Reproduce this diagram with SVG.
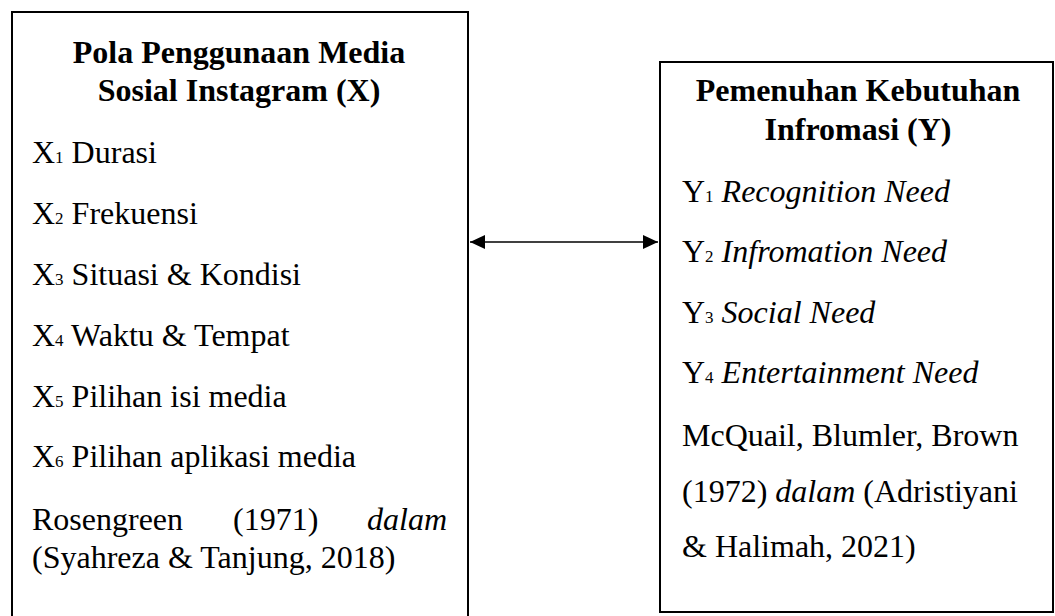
<svg xmlns="http://www.w3.org/2000/svg" width="1055" height="616" viewBox="0 0 1055 616">
<style>
  .box { fill: #ffffff; stroke: #000000; stroke-width: 2; }
  .t { font-family: "Liberation Serif", "Times New Roman", serif; font-size: 32px; fill: #000000; }
  .b { font-weight: bold; }
  .i { font-style: italic; }
  .sub { font-size: 17px; }
  .conn { stroke: #000000; stroke-width: 1.3; fill: none; }
</style>
<defs>
  <marker id="ah" viewBox="0 0 15 14" refX="15" refY="7" markerWidth="15" markerHeight="14" markerUnits="userSpaceOnUse" orient="auto-start-reverse">
    <path d="M0,0 L15,7 L0,14 Z" fill="#000000"/>
  </marker>
</defs>
<rect width="1055" height="616" fill="#ffffff"/>
<g id="node-x">
  <rect class="box" x="12" y="12" width="456" height="620"/>
  <text class="t b" x="239" y="63" text-anchor="middle">Pola Penggunaan Media</text>
  <text class="t b" x="239" y="101" text-anchor="middle">Sosial Instagram (X)</text>
  <text class="t" x="32" y="163">X<tspan class="sub">1</tspan> Durasi</text>
  <text class="t" x="32" y="224">X<tspan class="sub">2</tspan> Frekuensi</text>
  <text class="t" x="32" y="285">X<tspan class="sub">3</tspan> Situasi &amp; Kondisi</text>
  <text class="t" x="32" y="346">X<tspan class="sub">4</tspan> Waktu &amp; Tempat</text>
  <text class="t" x="32" y="407">X<tspan class="sub">5</tspan> Pilihan isi media</text>
  <text class="t" x="32" y="467">X<tspan class="sub">6</tspan> Pilihan aplikasi media</text>
  <text class="t" x="32" y="530">Rosengreen</text>
  <text class="t" x="233" y="530">(1971)</text>
  <text class="t i" x="447" y="530" text-anchor="end">dalam</text>
  <text class="t" x="32" y="568">(Syahreza &amp; Tanjung, 2018)</text>
</g>
<g id="node-y">
  <rect class="box" x="660" y="62" width="393" height="550"/>
  <text class="t b" x="858" y="101" text-anchor="middle">Pemenuhan Kebutuhan</text>
  <text class="t b" x="858" y="140" text-anchor="middle">Infromasi (Y)</text>
  <text class="t" x="682" y="202">Y<tspan class="sub">1</tspan> <tspan class="i">Recognition Need</tspan></text>
  <text class="t" x="682" y="262">Y<tspan class="sub">2</tspan> <tspan class="i">Infromation Need</tspan></text>
  <text class="t" x="682" y="323">Y<tspan class="sub">3</tspan> <tspan class="i">Social Need</tspan></text>
  <text class="t" x="682" y="383">Y<tspan class="sub">4</tspan> <tspan class="i">Entertainment Need</tspan></text>
  <text class="t" x="682" y="446">McQuail, Blumler, Brown</text>
  <text class="t" x="682" y="502">(1972) <tspan class="i">dalam</tspan> (Adristiyani</text>
  <text class="t" x="682" y="557">&amp; Halimah, 2021)</text>
</g>
<g id="connectors">
  <line class="conn" x1="470" y1="242" x2="658" y2="242" marker-start="url(#ah)" marker-end="url(#ah)"/>
</g>
</svg>
